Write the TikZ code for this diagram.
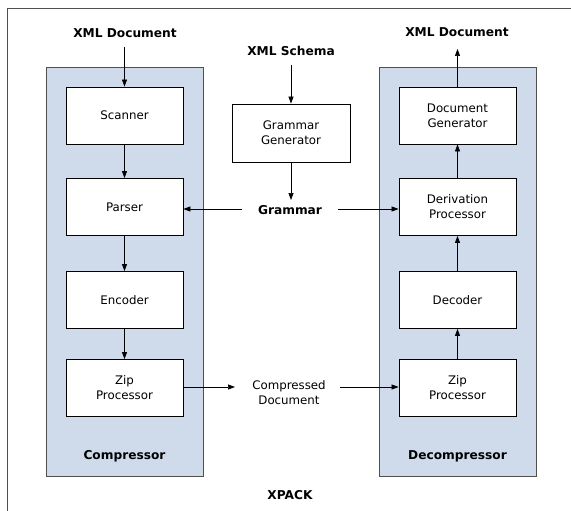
\documentclass[tikz,border=0pt]{standalone}
\usepackage{fontspec}
\setmainfont{DejaVu Sans}
\usetikzlibrary{arrows.meta}
\definecolor{panelblue}{RGB}{207,219,234}
\definecolor{framegray}{RGB}{80,80,80}
\begin{document}
\begin{tikzpicture}[x=1pt,y=-1pt,
  box/.style={draw=black,fill=white,line width=0.8pt,minimum width=117pt,minimum height=57pt,inner sep=0pt,align=center,font=\fontsize{11.8}{15}\selectfont},
  panel/.style={draw=framegray,fill=panelblue,line width=0.9pt},
  blab/.style={font=\fontsize{12.2}{15}\selectfont\bfseries,inner sep=1pt},
  plab/.style={font=\fontsize{11.8}{15}\selectfont,align=center,inner sep=1pt},
  arr/.style={-{Triangle[length=7pt,width=5pt]},line width=0.7pt}]
\useasboundingbox (0,0) rectangle (571,511);
\begin{scope}
\clip (0,0) rectangle (571,511);
\draw[framegray,line width=0.9pt] (7,8) rectangle (580,520);
\end{scope}
% panels
\draw[panel] (46,67) rectangle (203,476);
\draw[panel] (379,67) rectangle (536,476);
% left boxes
\node[box] (scan) at (124.5,115.5) {Scanner};
\node[box] (pars) at (124.5,207) {Parser};
\node[box] (enc) at (124.5,300) {Encoder};
\node[box] (zipl) at (124.5,388) {Zip\\Processor};
\node[blab] (comp) at (124.5,456) {Compressor};
% right boxes
\node[box] (docg) at (457.5,115.5) {Document\\Generator};
\node[box] (deriv) at (457.5,207) {Derivation\\Processor};
\node[box] (dec) at (457.5,300) {Decoder};
\node[box] (zipr) at (457.5,388) {Zip\\Processor};
\node[blab] (decomp) at (457.5,456) {Decompressor};
% middle
\node[box,minimum width=118pt,minimum height=58pt] (gg) at (291,133) {Grammar\\Generator};
\node[blab] (schema) at (291,51) {XML Schema};
\node[blab] (gram) at (290,210) {Grammar};
\node[plab] (cdoc) at (289,393) {Compressed\\Document};
\node[blab] (xin) at (125,33) {XML Document};
\node[blab] (xout) at (457,32) {XML Document};
\node[blab] (xpack) at (290,495) {XPACK};
% free ends
\coordinate (xinS) at (124.5,47);
\coordinate (schS) at (291,65);
\coordinate (gramN) at (291,200);
\coordinate (gramW) at (242,209);
\coordinate (gramE) at (338,209);
\coordinate (cdW) at (235,387);
\coordinate (cdE) at (340,387);
\coordinate (xoutS) at (457.5,49);
% arrows
\draw[arr] (xinS) -- (scan.north);
\draw[arr] (scan) -- (pars);
\draw[arr] (pars) -- (enc);
\draw[arr] (enc) -- (zipl);
\draw[arr] (schS) -- (gg.north);
\draw[arr] (gg.south) -- (gramN);
\draw[arr] (gramW) -- (pars.east |- gramW);
\draw[arr] (gramE) -- (deriv.west |- gramE);
\draw[arr] (zipl.east |- cdW) -- (cdW);
\draw[arr] (cdE) -- (zipr.west |- cdE);
\draw[arr] (zipr) -- (dec);
\draw[arr] (dec) -- (deriv);
\draw[arr] (deriv) -- (docg);
\draw[arr] (docg.north) -- (xoutS);
\end{tikzpicture}
\end{document}
